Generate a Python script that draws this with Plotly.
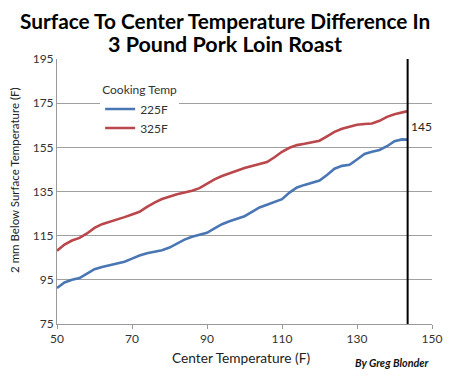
import plotly.graph_objects as go

center_temp = [50, 52, 54, 56, 58, 60, 62, 64, 66, 68, 70, 72, 74, 76, 78, 80, 82, 84, 86, 88,
               90, 92, 94, 96, 98, 100, 102, 104, 106, 108, 110, 112, 114, 116, 118, 120, 122,
               124, 126, 128, 130, 132, 134, 136, 138, 140, 142, 143.5]
surface_225 = [91.3, 93.8, 95.0, 95.8, 97.8, 99.8, 100.8, 101.6, 102.2, 103.2, 104.6, 106.0, 107.0,
               107.8, 108.4, 109.6, 111.6, 113.2, 114.5, 115.4, 116.3, 118.3, 120.2, 121.5, 122.8,
               123.8, 125.8, 127.8, 129.0, 130.3, 131.5, 134.5, 136.8, 138.0, 139.0, 140.0, 142.5,
               145.3, 146.6, 147.1, 149.5, 152.0, 153.0, 153.8, 155.5, 157.8, 158.6, 158.5]
surface_325 = [108.2, 111.0, 112.8, 114.0, 116.0, 118.5, 120.2, 121.2, 122.4, 123.4, 124.6, 125.8,
               128.0, 130.0, 131.6, 132.8, 133.8, 134.5, 135.3, 136.5, 138.5, 140.5, 142.0, 143.3,
               144.5, 145.6, 146.5, 147.3, 148.3, 150.5, 153.0, 154.8, 156.0, 156.6, 157.2, 158.0,
               160.0, 162.0, 163.4, 164.4, 165.2, 165.6, 165.8, 167.0, 168.8, 170.0, 170.8, 171.4]
series_names = ["225F", "325F"]
x_ticks = [50, 70, 90, 110, 130, 150]
y_ticks = [75, 95, 115, 135, 155, 175, 195]
target_temp = 143.5
target_label = "145"

FONT = "Lato, Open Sans, sans-serif"

fig = go.Figure()
fig.add_trace(go.Scatter(x=center_temp, y=surface_225, mode="lines", name=series_names[0],
                         line=dict(color="#4a77b4", width=2.6)))
fig.add_trace(go.Scatter(x=center_temp, y=surface_325, mode="lines", name=series_names[1],
                         line=dict(color="#b9474b", width=2.6)))

fig.add_shape(type="line", xref="x", yref="y", x0=target_temp, x1=target_temp, y0=75, y1=195,
              line=dict(color="black", width=2))
fig.add_annotation(x=target_temp, y=164.5, xref="x", yref="y", text=target_label, showarrow=False,
                   xanchor="left", xshift=1, font=dict(family=FONT, size=12, color="#222"))

# titles
fig.add_annotation(x=0.448, y=1.145, xref="paper", yref="paper",
                   text="<b>Surface To Center Temperature Difference In</b>",
                   showarrow=False, xanchor="center", yanchor="middle",
                   font=dict(family=FONT, size=20.8, color="black"))
fig.add_annotation(x=0.448, y=1.058, xref="paper", yref="paper",
                   text="<b>3 Pound Pork Loin Roast</b>",
                   showarrow=False, xanchor="center", yanchor="middle",
                   font=dict(family=FONT, size=21.5, color="black"))
fig.add_annotation(x=0.49, y=-0.128, xref="paper", yref="paper", text="Center Temperature (F)",
                   showarrow=False, xanchor="center", yanchor="middle",
                   font=dict(family=FONT, size=13.7, color="#222"))
fig.add_annotation(x=-0.115, y=0.543, xref="paper", yref="paper",
                   text="2 mm Below Surface Temperature (F)", textangle=-90,
                   showarrow=False, xanchor="center", yanchor="middle",
                   font=dict(family=FONT, size=11.5, color="#222"))
fig.add_annotation(x=0.998, y=-0.147, xref="paper", yref="paper", text="<b><i>By Greg Blonder</i></b>",
                   showarrow=False, xanchor="right", yanchor="middle",
                   font=dict(family=FONT, size=10.8, color="#111"))

fig.update_layout(
    width=450, height=377,
    margin=dict(l=57, r=18, t=59, b=53, autoexpand=False),
    paper_bgcolor="white", plot_bgcolor="white",
    font=dict(family=FONT, size=12, color="#333"),
    legend=dict(x=0.115, y=0.925, xanchor="left", yanchor="top", bgcolor="white",
                title=dict(text="Cooking Temp", font=dict(size=12, color="#333")),
                font=dict(size=12, color="#333")),
    xaxis=dict(range=[50, 150], tickvals=x_ticks, showgrid=False, showline=True, automargin=False,
               linecolor="#999", linewidth=1, ticks="outside", tickcolor="#999", ticklen=4,
               tickfont=dict(size=12, color="#333"), zeroline=False),
    yaxis=dict(range=[75, 195], tickvals=y_ticks, showgrid=True, gridcolor="#a0a0a0", gridwidth=1,
               showline=True, linecolor="#999", linewidth=1, zeroline=False, automargin=False,
               tickfont=dict(size=12, color="#333")),
)

fig.write_html("out.html", config={"displayModeBar": False},
               post_script="document.body.style.margin='0px';")
